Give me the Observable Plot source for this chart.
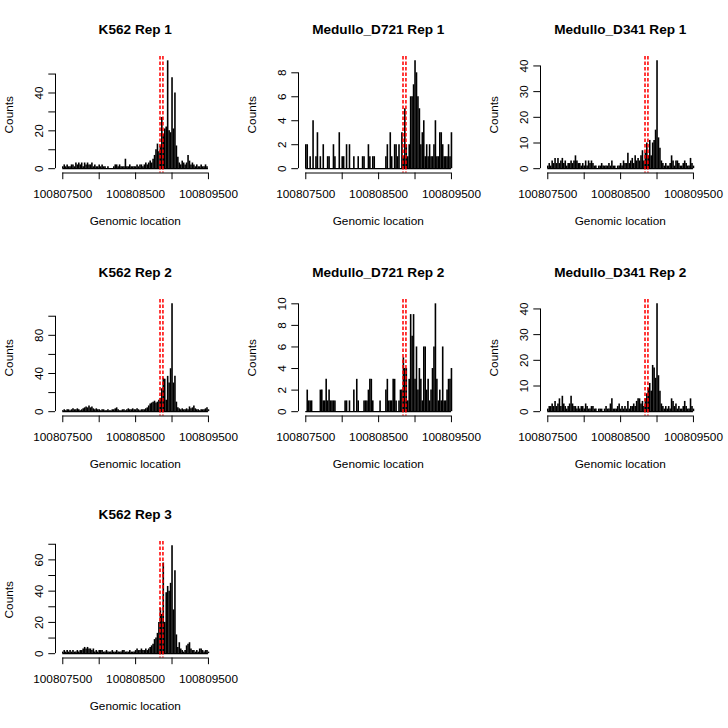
<!DOCTYPE html>
<html><head><meta charset="utf-8">
<script src="https://cdn.jsdelivr.net/npm/d3@7"></script>
<script src="https://cdn.jsdelivr.net/npm/@observablehq/plot@0.6"></script>
<style>
html,body{margin:0;padding:0;background:#fff;}
#grid{position:relative;width:728px;height:728px;background:#fff;overflow:hidden;}
#grid svg{position:absolute;}
</style></head><body><div id="grid"></div>
<script>
const panelTitles = ["K562 Rep 1", "Medullo_D721 Rep 1", "Medullo_D341 Rep 1",
  "K562 Rep 2", "Medullo_D721 Rep 2", "Medullo_D341 Rep 2", "K562 Rep 3"];

// counts per 20 bp bin, starting at 100807500
const binStart = 100807500;
const binSize = 20;

const k562Rep1 = [1,2,1,2,1,1,2,2,1,3, 2,3,2,3,1,3,2,3,2,2, 3,1,2,1,1,2,1,2,1,1,
  0,1,0,0,0,1,2,2,1,2, 1,1,1,5,1,1,2,1,1,1, 1,2,1,2,2,1,2,3,2,3,
  4,3,5,7,10,13,9,12,27,18, 21,22,57,20,19,48,21,40,12,6, 3,2,4,3,2,3,7,4,2,3,
  2,1,2,1,1,2,1,1,2,1,0];
const medD721Rep1 = [2,2,0,1,0,4,0,1,3,0, 1,0,2,0,0,1,1,0,0,2, 1,0,0,3,0,1,1,0,2,0,
  2,0,0,1,0,0,1,0,0,1, 1,0,0,2,1,0,1,1,0,0, 0,0,0,0,0,1,2,0,3,1,
  0,2,2,1,2,0,3,1,5,2, 1,2,6,6,7,9,8,6,5,2, 3,4,1,2,1,2,1,1,2,4,
  1,1,3,3,2,1,1,1,2,1,3];
const medD341Rep1 = [1,2,1,3,2,4,2,4,2,3, 4,2,3,1,2,2,3,2,3,5, 3,2,2,1,2,1,3,1,3,2,
  3,2,1,1,0,1,1,2,1,1, 1,1,2,1,3,1,1,0,1,1, 2,1,3,2,2,6,2,3,4,2,
  5,3,4,3,5,7,3,6,10,5, 11,5,10,11,15,42,12,8,3,2, 1,2,1,1,2,5,3,1,3,3,
  2,1,1,2,3,2,1,1,4,2,1];
const k562Rep2 = [1,2,1,2,2,1,2,3,2,2, 3,2,1,2,3,4,5,4,6,4, 5,3,2,3,2,2,1,2,2,1,
  1,2,1,1,2,2,3,4,2,1, 1,2,2,1,2,3,2,2,3,2, 2,3,2,1,2,2,2,3,4,6,
  8,9,10,11,9,10,12,14,24,35, 34,12,37,30,45,113,30,37,10,4, 3,2,3,2,2,3,2,5,3,4,
  6,3,2,2,1,2,2,2,3,4,2];
const medD721Rep2 = [0,2,1,1,1,0,0,0,0,0, 2,2,1,1,3,1,2,1,1,1, 1,0,0,0,0,0,0,1,1,0,
  1,0,0,2,0,3,1,0,0,0, 1,1,1,2,3,3,1,0,0,0, 0,1,0,0,0,2,3,1,1,1,
  3,3,1,0,1,2,2,5,4,4, 1,3,9,7,9,3,6,2,4,3, 1,6,6,2,3,1,2,4,6,10,
  3,1,2,1,6,1,1,2,3,3,4];
const medD341Rep2 = [1,2,2,3,2,4,2,3,5,2, 6,3,2,1,2,3,6,3,2,2, 1,2,1,2,2,1,3,2,1,1,
  2,2,1,1,0,1,1,1,0,1, 2,1,1,3,5,1,1,1,2,3, 1,2,1,2,1,4,1,2,2,3,
  2,4,5,5,3,4,2,5,7,9, 11,8,18,17,13,42,14,8,3,2, 1,2,1,2,1,5,4,2,3,1,
  2,1,1,2,4,2,1,1,5,2,1];
const k562Rep3 = [1,2,1,2,1,2,1,2,1,1, 2,1,2,2,3,4,3,4,3,3, 2,3,1,2,1,2,2,2,1,1,
  2,1,1,1,2,1,1,2,1,1, 1,2,2,1,1,1,2,1,1,1, 2,3,2,2,3,2,2,3,2,3,
  4,5,6,9,10,13,20,29,25,58, 20,39,43,40,45,69,28,53,12,4, 7,3,2,1,2,5,6,7,3,2,
  2,1,2,1,3,3,2,1,2,2,1];

const panelCounts = [k562Rep1, medD721Rep1, medD341Rep1, k562Rep2, medD721Rep2, medD341Rep2, k562Rep3];

const cutSites = [100808835, 100808875];
const xTicks = [100807500, 100808000, 100808500, 100809000, 100809500];
const xLabels = [100807500, 100808500, 100809500];
const yTicks = [[0,10,20,30,40,50], [0,2,4,6,8], [0,10,20,30,40],
  [0,20,40,60,80,100], [0,2,4,6,8,10], [0,10,20,30,40], [0,10,20,30,40,50,60,70]];
const yLabels = [[0,20,40], [0,2,4,6,8], [0,10,20,30,40],
  [0,40,80], [0,2,4,6,8,10], [0,10,20,30,40], [0,20,40,60]];

const xDomain = [100807400, 100809590];
const cell = 728 / 3;
const grid = document.getElementById("grid");
const fs = 11.8;

panelCounts.forEach((counts, p) => {
  const data = counts.map((c, i) => ({pos: binStart + i * binSize, count: c}));
  const ymax = d3.max(counts);
  const yDomain = [-0.04 * ymax, 1.04 * ymax];
  const ticks = yTicks[p];
  const svg = Plot.plot({
    width: 243, height: 243,
    marginLeft: 55, marginRight: 28.5, marginTop: 56, marginBottom: 70.5,
    style: {fontFamily: "'Liberation Sans', Arial, Helvetica, sans-serif", fontSize: fs + "px", color: "black", background: "white"},
    x: {domain: xDomain},
    y: {domain: yDomain},
    marks: [
      Plot.ruleY([0], {x1: binStart, x2: binStart + (counts.length - 1) * binSize, stroke: "black", strokeWidth: 1.2}),
      Plot.ruleX(data.filter(d => d.count > 0), {x: "pos", y1: 0, y2: "count", stroke: "black", strokeWidth: 1.6, strokeLinecap: "butt"}),
      Plot.ruleX(cutSites, {stroke: "red", strokeWidth: 1.8, strokeDasharray: "3.5,2", strokeOpacity: 0.85}),
      // x axis
      Plot.ruleY([yDomain[0]], {x1: xTicks[0], x2: xTicks[xTicks.length - 1], stroke: "black"}),
      Plot.axisX({ticks: xTicks, tickSize: 6.7, tickPadding: 9.6, label: null,
        tickFormat: d => xLabels.includes(d) ? String(d) : "", fontSize: fs, fill: "black"}),
      // y axis
      Plot.ruleX([xDomain[0]], {y1: ticks[0], y2: ticks[ticks.length - 1], stroke: "black"}),
      Plot.axisY({ticks: ticks, tickSize: 6.7, label: null, tickFormat: () => ""}),
      Plot.text(yLabels[p], {x: xDomain[0], y: d => d, text: d => String(d), rotate: -90,
        dx: -16, textAnchor: "middle", lineAnchor: "middle", fontSize: fs, fill: "black"}),
      // titles
      Plot.text(["Counts"], {frameAnchor: "left", dx: -46.4, rotate: -90, textAnchor: "middle", lineAnchor: "middle", fontSize: fs, fill: "black"}),
      Plot.text(["Genomic location"], {frameAnchor: "bottom", dy: 44, textAnchor: "middle", lineAnchor: "top", fontSize: fs, fill: "black"}),
      Plot.text([panelTitles[p]], {frameAnchor: "top", dy: -32.5, textAnchor: "middle", lineAnchor: "top", fontSize: 13.6, fontWeight: "bold", fill: "black"})
    ]
  });
  const row = Math.floor(p / 3), col = p % 3;
  svg.style.left = (col * cell) + "px";
  svg.style.top = (row * cell) + "px";
  grid.appendChild(svg);
});
</script>
</body></html>
